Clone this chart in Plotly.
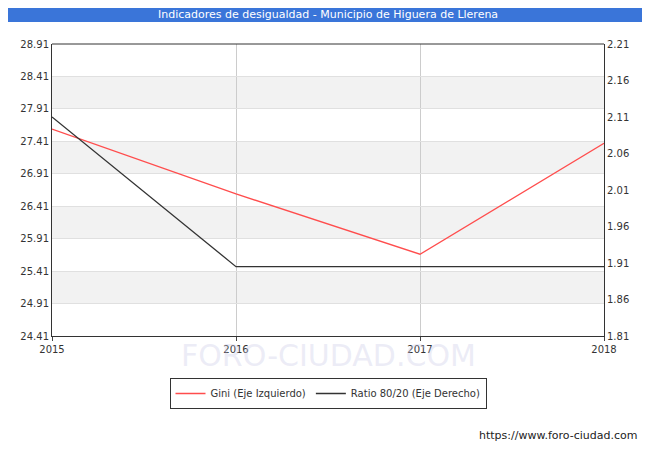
import plotly.graph_objects as go

years = [2015, 2016, 2017, 2018]
gini = [27.60, 26.60, 25.67, 27.38]
ratio = [2.11, 1.905, 1.905, 1.905]
left_ticks = [24.41, 24.91, 25.41, 25.91, 26.41, 26.91, 27.41, 27.91, 28.41, 28.91]
right_ticks = [1.81, 1.86, 1.91, 1.96, 2.01, 2.06, 2.11, 2.16, 2.21]

fig = go.Figure()
fig.add_trace(go.Scatter(x=years, y=gini, mode="lines", name="Gini (Eje Izquierdo)",
                         line=dict(color="#ff4d4d", width=1.3)))
fig.add_trace(go.Scatter(x=years, y=ratio, mode="lines", name="Ratio 80/20 (Eje Derecho)",
                         line=dict(color="#333333", width=1.3), yaxis="y2"))

shapes = []
for i in range(1, len(left_ticks) - 1, 2):
    shapes.append(dict(type="rect", xref="paper", yref="y", x0=0, x1=1,
                       y0=left_ticks[i], y1=left_ticks[i + 1],
                       fillcolor="#f2f2f2", line=dict(width=0), layer="below"))

font = dict(family="DejaVu Sans", size=10, color="#333")
fig.update_layout(
    width=634, height=434, plot_bgcolor="white", paper_bgcolor="white",
    margin=dict(l=36, r=38, t=36, b=106),
    font=font, shapes=shapes,
    xaxis=dict(range=[2015, 2018], tickvals=years, showgrid=True, gridcolor="#cccccc",
               showline=True, linecolor="#333", ticks="outside", ticklen=4, zeroline=False),
    yaxis=dict(range=[24.41, 28.91], tickvals=left_ticks, ticktext=[f"{v:.2f}" for v in left_ticks],
               showgrid=True, gridcolor="#e0e0e0", showline=True, linecolor="#333",
               zeroline=False),
    yaxis2=dict(range=[1.81, 2.21], tickvals=right_ticks, ticktext=[f"{v:.2f}" for v in right_ticks],
                overlaying="y", side="right", showgrid=False, showline=True, linecolor="#333",
                zeroline=False),
    legend=dict(orientation="h", x=0.5, xanchor="center", y=-(42/292), yanchor="top",
                bordercolor="#333", borderwidth=1, font=dict(size=10, family="DejaVu Sans")),
)
fig.add_shape(type="line", xref="paper", yref="paper", x0=0, x1=1, y0=1, y1=1,
              line=dict(color="#333", width=1))
fig.add_shape(type="rect", xref="paper", yref="paper", x0=-0.1, x1=1.1,
              y0=1 + 22/292, y1=1 + 37/292, fillcolor="#3a75d9", line=dict(width=0),
              layer="above")
fig.add_annotation(text="Indicadores de desigualdad - Municipio de Higuera de Llerena",
                   xref="paper", yref="paper", x=0.5, y=1 + 29/292, yanchor="middle",
                   showarrow=False, font=dict(color="white", size=11, family="DejaVu Sans"))
fig.add_annotation(text="FORO-CIUDAD.COM", xref="paper", yref="paper", x=0.5, y=-(19/292),
                   yanchor="middle", showarrow=False,
                   font=dict(color="rgba(200,200,230,0.35)", size=30, family="DejaVu Sans"))
fig.add_annotation(text="https://www.foro-ciudad.com", xref="paper", yref="paper",
                   x=1 + 36/560, xanchor="right", y=-(99/292), yanchor="middle",
                   showarrow=False, font=dict(size=11, family="DejaVu Sans", color="#222"))
fig.write_html("out.html")
